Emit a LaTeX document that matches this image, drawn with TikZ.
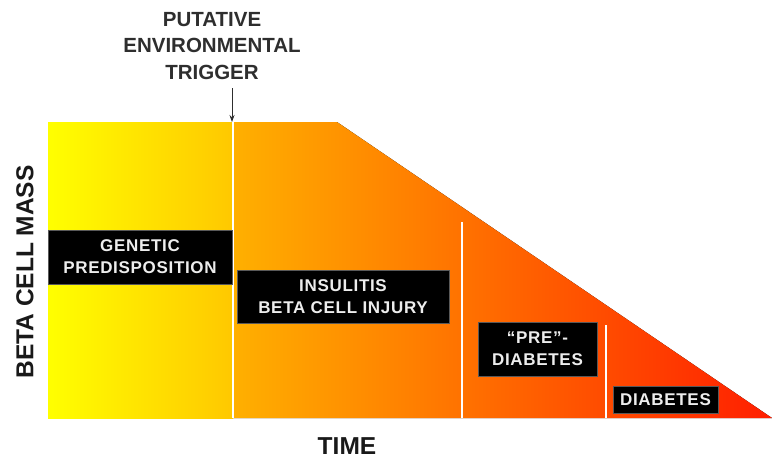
\documentclass[tikz,border=0pt]{standalone}
\usepackage{fontspec}
\setmainfont{Liberation Sans}
\newfontfamily\stagefont{Liberation Sans}[LetterSpace=4]
\usetikzlibrary{positioning,arrows.meta}
\definecolor{lightyellow}{HTML}{FFFF00}
\definecolor{goldyellow}{HTML}{FFC800}
\definecolor{lightorange}{HTML}{FFB000}
\definecolor{midorange}{HTML}{FF7D00}
\definecolor{deepred}{HTML}{FF1E00}
\definecolor{labelgray}{HTML}{2E2E2E}

\begin{document}
\begin{tikzpicture}[
            x=1pt, y=-1pt,
            stage/.style={
                fill=black,
                draw=black!65,
                text=black!7,
                align=center,
                inner sep=0pt,
                font=\stagefont\bfseries\fontsize{17}{22}\selectfont
            },
            axislabel/.style={
                text=black!90,
                font=\bfseries\fontsize{24.5}{28}\selectfont
            },
            divider/.style={white, line width=2pt},
            arrow/.style={-{Stealth[length=7pt,width=5pt]}, line width=0.8pt, labelgray}
        ]

        \useasboundingbox (0,0) rectangle (772,459);

        % beta cell mass over time
        \fill[left color=lightyellow, right color=goldyellow] (48,122) rectangle (233,418);
        \fill[left color=lightorange, middle color=midorange, right color=deepred]
            (233,122) -- (337,122) -- (772,418) -- (233,418) -- cycle;

        \draw[divider] (233,122) -- (233,418);
        \draw[divider] (462,222) -- (462,418);
        \draw[divider] (606,325) -- (606,418);

        \node[stage, minimum width=184, minimum height=54] (genetic) at (140,257) {GENETIC\\PREDISPOSITION};
        \node[stage, minimum width=212, minimum height=53] (insulitis) at (343,296.5) {INSULITIS\\BETA CELL INJURY};
        \node[stage, minimum width=119, minimum height=54] (prediabetes) at (537.5,349) {“PRE”-\\DIABETES};
        \node[stage, minimum width=105, minimum height=27] (diabetes) at (665.5,399.5) {DIABETES};

        \node[align=center, text=labelgray, font=\bfseries\fontsize{20.5}{26.5}\selectfont] (trigger) at (212,46)
            {PUTATIVE\\ENVIRONMENTAL\\TRIGGER};
        \coordinate (triggerstart) at (232,88);
        \coordinate (triggerend) at (232,122);
        \draw[arrow] (triggerstart) -- (triggerend);

        \node[axislabel, rotate=90] (mass) at (25,272) {BETA CELL MASS};
        \node[axislabel] (time) at (347,446) {TIME};

        \end{tikzpicture}
\end{document}
